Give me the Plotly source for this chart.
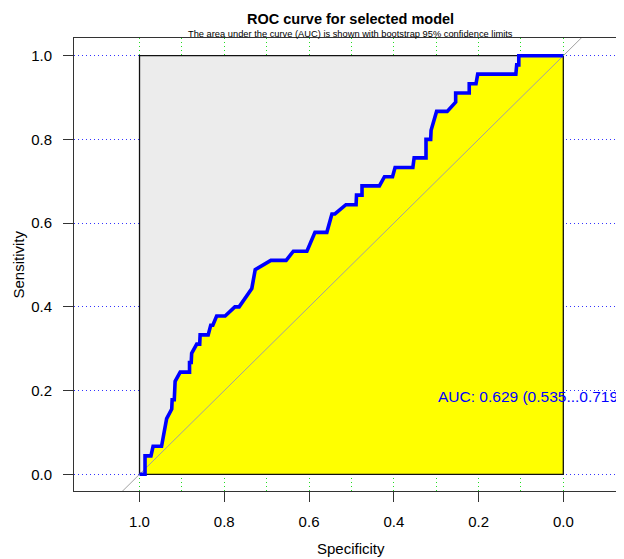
import plotly.graph_objects as go

# ROC curve points (specificity, sensitivity)
specificity = [1.000, 0.987, 0.987, 0.973, 0.968, 0.948, 0.944, 0.941, 0.936, 0.924,
               0.923, 0.918, 0.916, 0.904, 0.882, 0.882, 0.878, 0.877, 0.865, 0.858,
               0.857, 0.838, 0.832, 0.827, 0.818, 0.798, 0.775, 0.765, 0.735, 0.727,
               0.690, 0.654, 0.637, 0.605, 0.586, 0.558, 0.546, 0.539, 0.513, 0.489,
               0.488, 0.475, 0.475, 0.434, 0.422, 0.403, 0.397, 0.355, 0.352, 0.324,
               0.324, 0.313, 0.312, 0.299, 0.274, 0.254, 0.254, 0.222, 0.222, 0.206,
               0.202, 0.112, 0.110, 0.105, 0.105, 0.000]
sensitivity = [0.000, 0.000, 0.044, 0.044, 0.067, 0.067, 0.089, 0.111, 0.133, 0.156,
               0.178, 0.178, 0.222, 0.244, 0.244, 0.267, 0.267, 0.289, 0.311, 0.311,
               0.333, 0.333, 0.356, 0.356, 0.378, 0.378, 0.400, 0.400, 0.444, 0.489,
               0.511, 0.511, 0.533, 0.533, 0.578, 0.578, 0.622, 0.622, 0.644, 0.644,
               0.667, 0.667, 0.689, 0.689, 0.711, 0.711, 0.733, 0.733, 0.756, 0.756,
               0.800, 0.800, 0.822, 0.867, 0.867, 0.889, 0.911, 0.911, 0.933, 0.933,
               0.956, 0.956, 0.978, 0.978, 1.000, 1.000]

auc_text = "AUC: 0.629 (0.535...0.719)"
auc_pos = (0.30, 0.185)

title_text = "ROC curve for selected model"
subtitle_text = "The area under the curve (AUC) is shown with bootstrap 95% confidence limits"

x_ticks = [1.0, 0.8, 0.6, 0.4, 0.2, 0.0]
x_minor = [1.0, 0.9, 0.8, 0.7, 0.6, 0.5, 0.4, 0.3, 0.2, 0.1, 0.0]
y_ticks = [0.0, 0.2, 0.4, 0.6, 0.8, 1.0]
x_range = [1.1546, -0.1432]
y_range = [-0.0399, 1.0423]
diag_ends = [1.1, -0.1]

FONT = "Liberation Sans, Arial, Helvetica, sans-serif"

fig = go.Figure()

# grey unit box
box_x = [1, 0, 0, 1, 1]
box_y = [0, 0, 1, 1, 0]
fig.add_trace(go.Scatter(x=box_x, y=box_y, fill="toself", fillcolor="#ececec",
                         mode="lines", line=dict(width=0), hoverinfo="skip", showlegend=False))

# yellow area under curve
poly_x = specificity + [0.0, 1.0]
poly_y = sensitivity + [0.0, 0.0]
fig.add_trace(go.Scatter(x=poly_x, y=poly_y, fill="toself", fillcolor="#ffff00",
                         mode="lines", line=dict(width=0), hoverinfo="skip", showlegend=False))

# box outline
fig.add_trace(go.Scatter(x=box_x, y=box_y, mode="lines", line=dict(color="#111111", width=1.3),
                         hoverinfo="skip", showlegend=False))

# diagonal chance line
fig.add_trace(go.Scatter(x=diag_ends, y=[1 - v for v in diag_ends], mode="lines",
                         line=dict(color="#a0a0a0", width=1), hoverinfo="skip", showlegend=False))

# ROC curve
fig.add_trace(go.Scatter(x=specificity, y=sensitivity, mode="lines",
                         line=dict(color="#0000ff", width=3.6), showlegend=False))

# the page body adds an 8px offset; margins compensate so the plot lands where the reference has it
fig.update_layout(
    width=616, height=551, autosize=False,
    margin=dict(l=66, r=0, t=30, b=68, pad=0),
    paper_bgcolor="white", plot_bgcolor="white",
    font=dict(family=FONT, color="black", size=15),
    xaxis=dict(range=x_range, tickvals=x_ticks, ticktext=[f"{v:.1f}" for v in x_ticks],
               showline=True, linecolor="#333333", linewidth=1, mirror=True,
               ticks="outside", ticklen=10, tickcolor="#333333", tickwidth=1,
               showgrid=True, gridcolor="#22dd22", gridwidth=1, griddash="1px,3px",
               minor=dict(tickvals=x_minor, showgrid=True, gridcolor="#22dd22",
                          gridwidth=1, griddash="1px,3px", ticks=""),
               zeroline=False, tickfont=dict(size=15), ticklabelstandoff=7),
    yaxis=dict(range=y_range, tickvals=y_ticks, ticktext=[f"{v:.1f}" for v in y_ticks],
               showline=True, linecolor="#333333", linewidth=1, mirror=False,
               ticks="outside", ticklen=10, tickcolor="#333333", tickwidth=1,
               showgrid=True, gridcolor="#3333ff", gridwidth=1, griddash="1px,3px",
               zeroline=False, tickfont=dict(size=15), ticklabelstandoff=8),
    annotations=[
        dict(text=f"<b>{title_text}</b>", xref="paper", yref="paper", x=0.5027, y=1.042,
             xanchor="center", yanchor="middle", showarrow=False, font=dict(size=14.5)),
        dict(text=subtitle_text, xref="paper", yref="paper", x=0.5027, y=1.0088,
             xanchor="center", yanchor="middle", showarrow=False, font=dict(size=9.3)),
        dict(text="Specificity", xref="paper", yref="paper", x=0.5036, y=-0.128,
             xanchor="center", yanchor="middle", showarrow=False, font=dict(size=15)),
        dict(text="Sensitivity", xref="paper", yref="paper", x=-0.1018, y=0.5,
             xanchor="center", yanchor="middle", textangle=-90, showarrow=False,
             font=dict(size=15)),
        dict(text=auc_text, x=auc_pos[0], y=auc_pos[1], xref="x", yref="y",
             xanchor="left", yanchor="middle", showarrow=False,
             font=dict(size=15.5, color="#0000ff")),
    ],
)

fig.write_html("out.html")
